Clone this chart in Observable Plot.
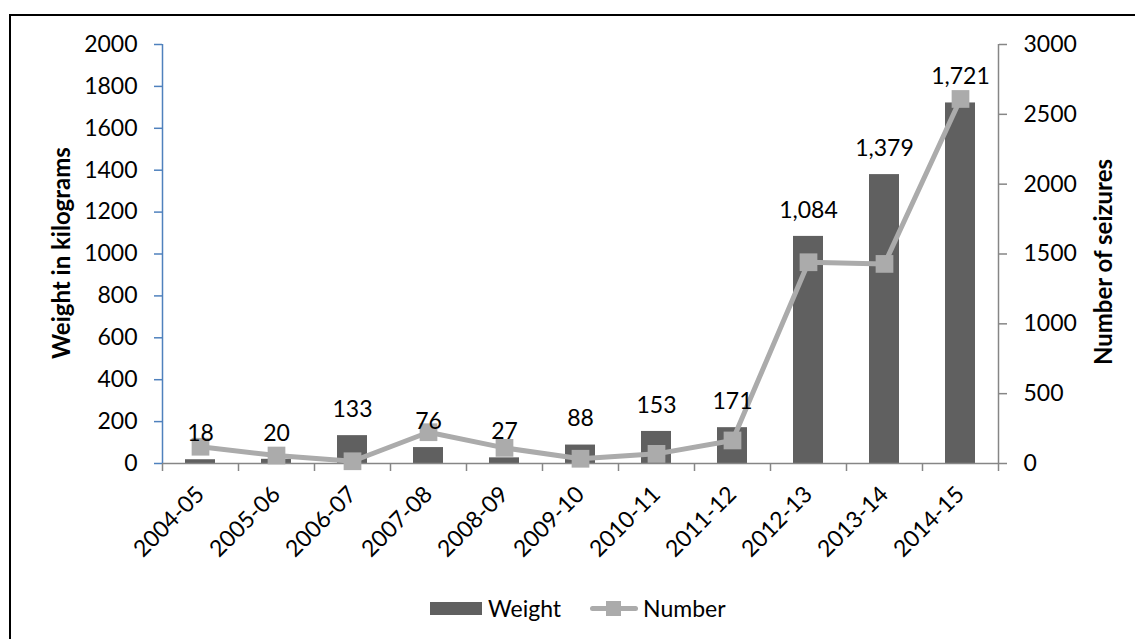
<!DOCTYPE html>
<html><head><meta charset="utf-8">
<script src="https://cdn.jsdelivr.net/npm/d3@7"></script>
<script src="https://cdn.jsdelivr.net/npm/@observablehq/plot@0.6"></script>
<style>
body{margin:0;background:#fff;}
#wrap{position:relative;width:1135px;height:639px;overflow:hidden;font-family:Lato,"Liberation Sans",sans-serif;color:#000;}
#frame{position:absolute;left:9px;top:14px;width:1300px;height:800px;border-left:2px solid #000;border-top:2px solid #000;box-sizing:border-box;}
#chart{position:absolute;left:0;top:0;}
.ytitle{position:absolute;font-weight:bold;font-size:24px;white-space:nowrap;transform:translate(-50%,-50%) rotate(-90deg);}
#legend{position:absolute;top:596px;left:430px;display:flex;align-items:center;font-size:23px;height:24px;}
.sw{display:inline-block;width:52px;height:13px;background:#606060;margin-right:6px;}
.ln{position:relative;display:inline-block;width:48px;height:24px;margin-left:29px;margin-right:5px;}
.ln:before{content:"";position:absolute;left:0;right:0;top:10px;height:5px;background:#ABABAB;border-radius:3px;}
.ln:after{content:"";position:absolute;left:16px;top:5px;width:15px;height:15px;background:#ABABAB;}
</style></head>
<body>
<div id="wrap">
  <div id="frame"></div>
  <div id="chart"></div>
  <div class="ytitle" style="left:60px;top:253px;">Weight in kilograms</div>
  <div class="ytitle" style="left:1102px;top:262px;">Number of seizures</div>
  <div id="legend"><span class="sw"></span><span>Weight</span><span class="ln"></span><span>Number</span></div>
</div>
<script>
const years = ["2004-05","2005-06","2006-07","2007-08","2008-09","2009-10","2010-11","2011-12","2012-13","2013-14","2014-15"];
const weight = [18,20,133,76,27,88,153,171,1084,1379,1721];
const seizures = [120,57,16,224,112,34,69,165,1441,1429,2610];
const leftTicks = [0,200,400,600,800,1000,1200,1400,1600,1800,2000];
const rightTicks = [0,500,1000,1500,2000,2500,3000];

const W = 1135, H = 639, mL = 162, mR = 137, mT = 44, mB = 176;
const step = (W - mL - mR) / years.length;
const ratio = 2000 / 3000;
const pxToY = 2000 / (H - mT - mB);

const data = years.map((y, i) => ({year: y, weight: weight[i], num: seizures[i] * ratio}));

const plot = Plot.plot({
  width: W, height: H,
  marginLeft: mL, marginRight: mR, marginTop: mT, marginBottom: mB,
  style: {fontFamily: "Lato, 'Liberation Sans', sans-serif", fontSize: "23px", background: "transparent"},
  x: {domain: years, paddingInner: 0.6, paddingOuter: 0.3, align: 0.5},
  y: {domain: [0, 2000]},
  marks: [
    Plot.barY(data, {x: "year", y: "weight", fill: "#606060"}),
    Plot.ruleY([0], {stroke: "#868686", strokeWidth: 1.5}),
    Plot.ruleX(years, {x: d => d, dx: -step / 2, y1: 0, y2: -8 * pxToY, stroke: "#868686", strokeWidth: 1.5}),
    Plot.ruleX([years[years.length - 1]], {x: d => d, dx: step / 2, y1: 0, y2: -8 * pxToY, stroke: "#868686", strokeWidth: 1.5}),
    Plot.ruleX([years[0]], {x: d => d, dx: -step / 2, y1: 0, y2: 2000, stroke: "#4F81BD", strokeWidth: 1.5}),
    Plot.ruleX([years[years.length - 1]], {x: d => d, dx: step / 2, y1: 0, y2: 2000, stroke: "#868686", strokeWidth: 1.5}),
    Plot.axisY({anchor: "left", ticks: leftTicks, tickSize: 8, tickPadding: 17, stroke: "#4F81BD", strokeWidth: 1.5, fill: "#000", label: null, tickFormat: d => String(d)}),
    Plot.axisY(rightTicks.map(d => d * ratio), {anchor: "right", tickSize: 8, tickPadding: 17, stroke: "#868686", strokeWidth: 1.5, fill: "#000", label: null, tickFormat: d => String(Math.round(d / ratio))}),
    Plot.axisX({anchor: "bottom", tickSize: 0, tickRotate: -45, tickPadding: 27, label: null, fill: "#000"}),
    Plot.line(data, {x: "year", y: "num", stroke: "#ABABAB", strokeWidth: 5}),
    Plot.dot(data, {x: "year", y: "num", symbol: "square", r: 10, fill: "#ABABAB", stroke: "none"}),
    Plot.text(data, {x: "year", y: "weight", text: d => d3.format(",")(d.weight), dy: -26, fill: "#000"})
  ]
});
document.getElementById("chart").appendChild(plot);
</script>
</body></html>
